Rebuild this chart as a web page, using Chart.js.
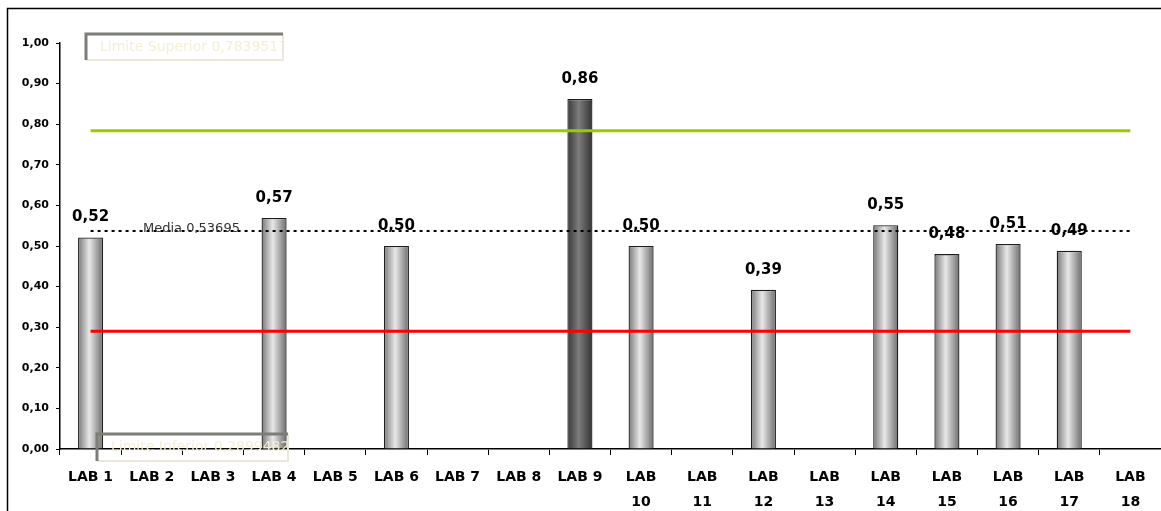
<!DOCTYPE html>
<html>
<head>
<meta charset="utf-8">
<script src="https://cdn.jsdelivr.net/npm/chart.js@4.4.1/dist/chart.umd.min.js"></script>
<style>
  html, body { margin: 0; padding: 0; background: #fff; }
  #wrap { width: 1161px; height: 511px; position: relative; }
</style>
</head>
<body>
<div id="wrap"><canvas id="chart"></canvas></div>
<script>
// Data
const labs = ['LAB 1', 'LAB 2', 'LAB 3', 'LAB 4', 'LAB 5', 'LAB 6', 'LAB 7', 'LAB 8', 'LAB 9',
    'LAB 10', 'LAB 11', 'LAB 12', 'LAB 13', 'LAB 14', 'LAB 15', 'LAB 16', 'LAB 17', 'LAB 18'];
const values = [0.521, null, null, 0.569, null, 0.50, null, null, 0.862, 0.50,
    null, 0.392, null, 0.551, 0.48, 0.505, 0.488, null];
const outlierLab = 'LAB 9';
const upperLimit = 0.7839517;
const lowerLimit = 0.2899482;
const mean = 0.53695;
const yTicks = [0, 0.1, 0.2, 0.3, 0.4, 0.5, 0.6, 0.7, 0.8, 0.9, 1.0];

const fmt = (v, d) => v.toFixed(d).replace('.', ',');

Chart.defaults.font.family = "'DejaVu Sans', sans-serif";
Chart.defaults.color = '#000';

// cylinder-like shading across each bar, values printed above them
const barStyle = {
    id: 'barStyle',
    beforeDatasetDraw(chart, args) {
        if (args.index !== 0) return;
        args.meta.data.forEach((bar, i) => {
            if (values[i] == null) return;
            const g = chart.ctx.createLinearGradient(bar.x - bar.width / 2, 0, bar.x + bar.width / 2, 0);
            if (labs[i] === outlierLab) {
                g.addColorStop(0, '#383838');
                g.addColorStop(0.45, '#7c7c7c');
                g.addColorStop(1, '#333');
            } else {
                g.addColorStop(0, '#787878');
                g.addColorStop(0.45, '#e8e8e8');
                g.addColorStop(1, '#6c6c6c');
            }
            bar.options = Object.assign({}, bar.options, { backgroundColor: g });
        });
    },
    afterDatasetDraw(chart, args) {
        if (args.index !== 0) return;
        const c = chart.ctx;
        c.save();
        c.font = "bold 15px 'DejaVu Sans'";
        c.fillStyle = '#000';
        c.textAlign = 'center';
        c.textBaseline = 'middle';
        args.meta.data.forEach((bar, i) => {
            if (values[i] == null) return;
            c.fillText(fmt(values[i], 2), bar.x, bar.y - 20);
        });
        c.restore();
    }
};

function textBox(c, x, y, w, h, text) {
    c.save();
    c.beginPath();
    c.rect(x, y, w, h);
    c.clip();
    c.font = "14px 'DejaVu Sans'";
    c.fillStyle = '#f4efd4';
    c.textBaseline = 'middle';
    c.fillText(text, x + 14, y + h / 2);
    c.restore();
    c.save();
    c.lineWidth = 2;
    c.strokeStyle = '#ece8d8';
    c.beginPath();
    c.moveTo(x + w, y); c.lineTo(x + w, y + h); c.lineTo(x, y + h);
    c.stroke();
    c.lineWidth = 3;
    c.strokeStyle = '#7d7d77';
    c.beginPath();
    c.moveTo(x, y + h); c.lineTo(x, y); c.lineTo(x + w, y);
    c.stroke();
    c.restore();
}

const decorations = {
    id: 'decorations',
    afterDraw(chart) {
        const c = chart.ctx;
        const ys = chart.scales.y;
        // mean label sitting on the dotted line
        c.save();
        c.font = "13px 'DejaVu Sans'";
        c.fillStyle = '#333';
        c.textBaseline = 'alphabetic';
        c.fillText('Media ' + fmt(mean, 5), chart.chartArea.left + 83, ys.getPixelForValue(mean) + 1);
        c.restore();

        textBox(c, 86, 34, 197, 26, 'Limite Superior ' + fmt(upperLimit, 7));
        textBox(c, 97, 434, 191, 27, 'Limite Inferior ' + fmt(lowerLimit, 7));

        // outer frame
        c.save();
        c.strokeStyle = '#000';
        c.lineWidth = 1.5;
        c.beginPath();
        c.moveTo(7.5, 511); c.lineTo(7.5, 8.5); c.lineTo(1161, 8.5);
        c.stroke();
        c.restore();
    }
};

new Chart(document.getElementById('chart'), {
    type: 'bar',
    data: {
        labels: labs,
        datasets: [
            {
                type: 'bar',
                data: values,
                backgroundColor: () => '#bbb',
                borderColor: '#1e1e1e',
                borderWidth: 1.3,
                categoryPercentage: 1,
                barPercentage: 0.41,
                order: 2
            },
            {
                type: 'line',
                data: labs.map(() => upperLimit),
                borderColor: '#99cc00',
                borderWidth: 3,
                pointRadius: 0,
                order: 1
            },
            {
                type: 'line',
                data: labs.map(() => lowerLimit),
                borderColor: '#ff0000',
                borderWidth: 3,
                pointRadius: 0,
                order: 1
            },
            {
                type: 'line',
                data: labs.map(() => mean),
                borderColor: '#000',
                borderWidth: 2,
                borderDash: [3, 4],
                pointRadius: 0,
                order: 0
            }
        ]
    },
    options: {
        responsive: true,
        maintainAspectRatio: false,
        animation: false,
        layout: { padding: { top: 43, right: 0, left: 0, bottom: 0 } },
        plugins: {
            legend: { display: false },
            tooltip: { enabled: false }
        },
        scales: {
            x: {
                offset: true,
                grid: { drawOnChartArea: false, tickLength: 6, color: '#000', offset: true },
                border: { color: '#000', width: 1.5 },
                ticks: {
                    autoSkip: false,
                    maxRotation: 0,
                    padding: 9,
                    font: { size: 14, weight: 'bold', lineHeight: 1.85 },
                    callback: (v, i) => i >= 9 ? labs[i].split(' ') : labs[i]
                },
                afterFit: s => { s.height = 62; }
            },
            y: {
                min: 0,
                max: 1,
                afterBuildTicks: s => { s.ticks = yTicks.map(v => ({ value: v })); },
                grid: { drawOnChartArea: false, tickLength: 4, color: '#000' },
                border: { color: '#000', width: 1.5 },
                ticks: {
                    padding: 7,
                    font: { size: 11, weight: 'bold' },
                    callback: v => fmt(v, 2)
                },
                afterFit: s => { s.width = 60; }
            }
        }
    },
    plugins: [barStyle, decorations]
});
</script>
</body>
</html>
